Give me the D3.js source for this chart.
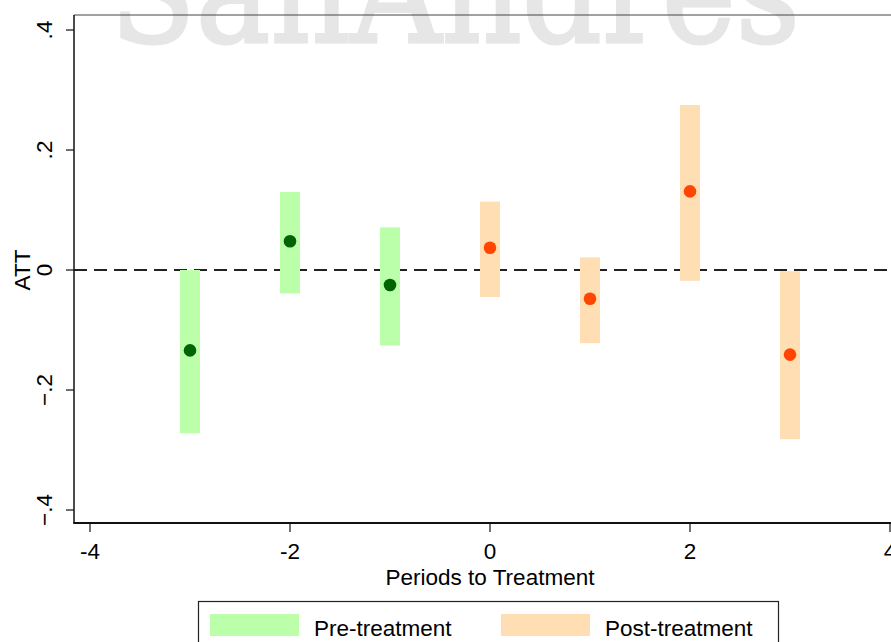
<!DOCTYPE html>
<html>
<head>
<meta charset="utf-8">
<script src="https://cdn.jsdelivr.net/npm/d3@7"></script>
<style>
  body { margin: 0; background: #fff; }
  svg { display: block; }
</style>
</head>
<body>
<script>
// event study estimates
var prePeriods = [-3, -2, -1];
var preAtt     = [-0.134, 0.048, -0.025];
var preLower   = [-0.272, -0.039, -0.126];
var preUpper   = [0.000, 0.130, 0.071];

var postPeriods = [0, 1, 2, 3];
var postAtt     = [0.037, -0.048, 0.131, -0.141];
var postLower   = [-0.045, -0.122, -0.018, -0.282];
var postUpper   = [0.114, 0.021, 0.275, -0.002];

var xTicks = [-4, -2, 0, 2, 4];
var yTicks = [-0.4, -0.2, 0, 0.2, 0.4];
var legendLabels = ["Pre-treatment", "Post-treatment"];

var w = 891;
var h = 642;
var font = "'Liberation Sans', Arial, sans-serif";
var fs = "22.5px";

var svg = d3.select("body")
            .append("svg")
            .attr("width", w)
            .attr("height", h);

var xScale = d3.scaleLinear()
               .domain([-4, 4])
               .range([90, 890]);
var yScale = d3.scaleLinear()
                .domain([-0.4, 0.4])
                .range([510, 30]);

var plotLeft = 74, plotTop = 15, plotBottom = 523;

// watermark behind everything
svg.append("text")
   .text("SanAndres")
   .attr("x", 110)
   .attr("y", 42)
   .attr("textLength", 690)
   .attr("lengthAdjust", "spacingAndGlyphs")
   .attr("font-family", "'DejaVu Serif', serif")
   .attr("font-size", "145px")
   .attr("fill", "#e6e6e6")
   .attr("stroke", "#e6e6e6")
   .attr("stroke-width", 3);

function fmt(d) {
  if (d === 0) return "0";
  return d3.format(".1f")(d).replace("0.", ".");
}

// dashed zero line
svg.append("line")
   .attr("x1", plotLeft)
   .attr("x2", w)
   .attr("y1", yScale(0))
   .attr("y2", yScale(0))
   .attr("stroke", "#222")
   .attr("stroke-width", 2)
   .attr("stroke-dasharray", "13,7");

function drawSeries(periods, att, lower, upper, barColor, dotColor) {
  var data = periods.map(function(p, i) {
    return { p: p, att: att[i], lo: lower[i], hi: upper[i] };
  });
  var g = svg.append("g");
  g.selectAll("rect")
   .data(data)
   .enter()
   .append("rect")
   .attr("x", function(d) { return xScale(d.p) - 10; })
   .attr("y", function(d) { return yScale(d.hi); })
   .attr("width", 20)
   .attr("height", function(d) { return yScale(d.lo) - yScale(d.hi); })
   .attr("fill", barColor);
  g.selectAll("circle")
   .data(data)
   .enter()
   .append("circle")
   .attr("cx", function(d) { return xScale(d.p); })
   .attr("cy", function(d) { return yScale(d.att); })
   .attr("r", 6.3)
   .attr("fill", dotColor);
}

drawSeries(prePeriods, preAtt, preLower, preUpper, "#bcffaa", "#006400");
drawSeries(postPeriods, postAtt, postLower, postUpper, "#ffdeb4", "#ff4500");

// frame: top line, left axis, bottom axis
svg.append("line")
   .attr("x1", plotLeft).attr("x2", w)
   .attr("y1", plotTop).attr("y2", plotTop)
   .attr("stroke", "#444").attr("stroke-width", 1.2);
svg.append("line")
   .attr("x1", plotLeft).attr("x2", plotLeft)
   .attr("y1", plotTop).attr("y2", plotBottom)
   .attr("stroke", "#111").attr("stroke-width", 1.5);
svg.append("line")
   .attr("x1", plotLeft - 0.75).attr("x2", w)
   .attr("y1", plotBottom).attr("y2", plotBottom)
   .attr("stroke", "#111").attr("stroke-width", 2.2);

// y ticks
svg.selectAll(".ytick")
   .data(yTicks)
   .enter()
   .append("line")
   .attr("class", "ytick")
   .attr("x1", plotLeft - 8).attr("x2", plotLeft)
   .attr("y1", function(d) { return yScale(d); })
   .attr("y2", function(d) { return yScale(d); })
   .attr("stroke", "#111").attr("stroke-width", 1.2);
svg.selectAll(".ylab")
   .data(yTicks)
   .enter()
   .append("text")
   .attr("class", "ylab")
   .text(fmt)
   .attr("transform", function(d) { return "translate(52," + yScale(d) + ") rotate(-90)"; })
   .attr("text-anchor", "middle")
   .attr("font-family", font)
   .attr("font-size", fs)
   .attr("fill", "#000");
svg.append("text")
   .text("ATT")
   .attr("transform", "translate(30," + yScale(0) + ") rotate(-90)")
   .attr("text-anchor", "middle")
   .attr("font-family", font)
   .attr("font-size", fs)
   .attr("fill", "#000");

// x ticks
svg.selectAll(".xtick")
   .data(xTicks)
   .enter()
   .append("line")
   .attr("class", "xtick")
   .attr("x1", function(d) { return xScale(d); })
   .attr("x2", function(d) { return xScale(d); })
   .attr("y1", plotBottom).attr("y2", plotBottom + 9)
   .attr("stroke", "#111").attr("stroke-width", 1.2);
svg.selectAll(".xlab")
   .data(xTicks)
   .enter()
   .append("text")
   .attr("class", "xlab")
   .text(function(d) { return d; })
   .attr("x", function(d) { return xScale(d); })
   .attr("y", 559)
   .attr("text-anchor", "middle")
   .attr("font-family", font)
   .attr("font-size", fs)
   .attr("fill", "#000");
svg.append("text")
   .text("Periods to Treatment")
   .attr("x", xScale(0))
   .attr("y", 585)
   .attr("text-anchor", "middle")
   .attr("font-family", font)
   .attr("font-size", fs)
   .attr("fill", "#000");

// legend
var legend = svg.append("g");
legend.append("rect")
      .attr("x", 198.5).attr("y", 601.5)
      .attr("width", 580).attr("height", 60)
      .attr("fill", "#fff").attr("stroke", "#222").attr("stroke-width", 1.2);
var legendColors = ["#bcffaa", "#ffdeb4"];
var legendX = [210, 501];
legend.selectAll(".sw")
      .data(legendLabels)
      .enter()
      .append("rect")
      .attr("class", "sw")
      .attr("x", function(d, i) { return legendX[i]; })
      .attr("y", 614)
      .attr("width", 89).attr("height", 22)
      .attr("fill", function(d, i) { return legendColors[i]; });
legend.selectAll(".lt")
      .data(legendLabels)
      .enter()
      .append("text")
      .attr("class", "lt")
      .text(function(d) { return d; })
      .attr("x", function(d, i) { return legendX[i] + 104; })
      .attr("y", 636)
      .attr("font-family", font)
      .attr("font-size", fs)
      .attr("fill", "#000");
</script>
</body>
</html>
